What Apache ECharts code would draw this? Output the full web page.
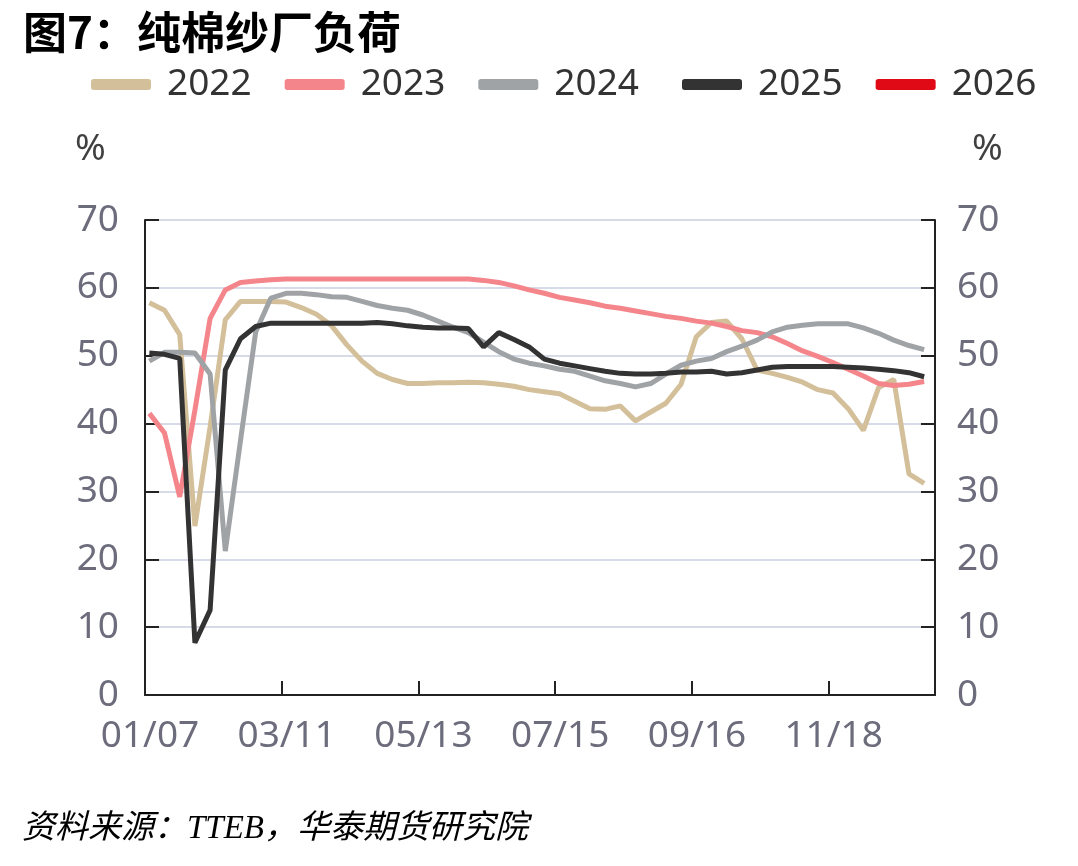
<!DOCTYPE html>
<html>
<head>
<meta charset="utf-8">
<title>纯棉纱厂负荷</title>
<script src="https://cdn.jsdelivr.net/npm/echarts@6/dist/echarts.min.js"></script>
<style>
  html, body { margin: 0; padding: 0; background: #fff; }
  #main { width: 1078px; height: 866px; }
</style>
</head>
<body>
<div id="main"></div>
<script>
  // weekly observation dates (all years drawn on one calendar)
  var obsDates = [
    '2025-01-09', '2025-01-16', '2025-01-23', '2025-01-30', '2025-02-06', '2025-02-13', '2025-02-20', '2025-02-27',
    '2025-03-06', '2025-03-13', '2025-03-20', '2025-03-27', '2025-04-03', '2025-04-10', '2025-04-17', '2025-04-24',
    '2025-05-01', '2025-05-08', '2025-05-15', '2025-05-22', '2025-05-29', '2025-06-05', '2025-06-12', '2025-06-19',
    '2025-06-26', '2025-07-03', '2025-07-10', '2025-07-17', '2025-07-24', '2025-07-31', '2025-08-07', '2025-08-14',
    '2025-08-21', '2025-08-28', '2025-09-04', '2025-09-11', '2025-09-18', '2025-09-25', '2025-10-02', '2025-10-09',
    '2025-10-16', '2025-10-23', '2025-10-30', '2025-11-06', '2025-11-13', '2025-11-20', '2025-11-27', '2025-12-04',
    '2025-12-11', '2025-12-18', '2025-12-25', '2026-01-01'
  ]
  var axisStart = '2025-01-07'
  var xTickLabels = ['01/07', '03/11', '05/13', '07/15', '09/16', '11/18']
  var yTickLabels = ['0', '10', '20', '30', '40', '50', '60', '70']

  var y2022 = [57.8, 56.7, 53.1, 24.9, 39.5, 55.3, 58.0, 58.0, 58.0, 57.9, 57.1, 56.1, 54.4, 51.6, 49.2, 47.4,
    46.5, 45.9, 45.9, 46.0, 46.0, 46.1, 46.0, 45.8, 45.5, 45.0, 44.7, 44.4, 43.3, 42.2, 42.1, 42.6,
    40.4, 41.7, 43.0, 45.8, 52.8, 54.9, 55.1, 52.5, 47.9, 47.4, 46.8, 46.1, 45.0, 44.5, 42.2, 39.0,
    45.3, 46.5, 32.6, 31.2]
  var y2023 = [41.5, 38.6, 29.2, 42.0, 55.5, 59.7, 60.8, 61.0, 61.2, 61.3, 61.3, 61.3, 61.3, 61.3, 61.3, 61.3,
    61.3, 61.3, 61.3, 61.3, 61.3, 61.3, 61.1, 60.8, 60.3, 59.7, 59.2, 58.6, 58.2, 57.8, 57.3, 57.0,
    56.6, 56.2, 55.8, 55.5, 55.1, 54.8, 54.3, 53.7, 53.4, 52.8, 51.8, 50.7, 49.9, 49.0, 48.0, 47.0,
    45.9, 45.6, 45.8, 46.2]
  var y2024 = [49.2, 50.5, 50.5, 50.4, 47.3, 21.2, 37.5, 53.5, 58.5, 59.2, 59.2, 59.0, 58.7, 58.6, 58.0, 57.4,
    57.0, 56.7, 56.0, 55.1, 54.2, 53.4, 52.0, 50.6, 49.5, 48.9, 48.5, 48.0, 47.7, 47.0, 46.3, 45.9,
    45.4, 45.9, 47.3, 48.6, 49.2, 49.6, 50.6, 51.4, 52.3, 53.5, 54.2, 54.5, 54.7, 54.7, 54.7, 54.1,
    53.3, 52.3, 51.5, 50.9]
  var y2025 = [50.4, 50.2, 49.6, 7.7, 12.5, 47.9, 52.5, 54.3, 54.8, 54.8, 54.8, 54.8, 54.8, 54.8, 54.8, 54.9,
    54.7, 54.4, 54.2, 54.1, 54.1, 54.0, 51.3, 53.4, 52.4, 51.3, 49.5, 48.9, 48.5, 48.1, 47.7, 47.4,
    47.3, 47.3, 47.4, 47.6, 47.6, 47.7, 47.3, 47.5, 47.9, 48.3, 48.4, 48.4, 48.4, 48.4, 48.3, 48.2,
    48.0, 47.8, 47.5, 46.9]
  var y2026 = []

  var seriesNames = ['2022', '2023', '2024', '2025', '2026']
  var seriesValues = [y2022, y2023, y2024, y2025, y2026]
  var colors = ['#d3bf99', '#f4868b', '#a0a3a6', '#333333', '#e00a16']

  var DAY = 86400000
  function dayOffset (d) {
    return (Date.parse(d) - Date.parse(axisStart)) / DAY
  }

  var labelColor = '#6c6c7c'
  var fontNum = '"Noto Sans", "Open Sans", sans-serif'

  var series = []
  for (var i = 0; i < seriesNames.length; i++) {
    var pts = []
    for (var j = 0; j < seriesValues[i].length; j++) {
      pts.push([dayOffset(obsDates[j]), seriesValues[i][j]])
    }
    series.push({
      name: seriesNames[i],
      type: 'line',
      data: pts,
      showSymbol: false,
      symbol: 'none',
      smooth: false,
      color: colors[i],
      lineStyle: { width: 5, color: colors[i] },
      z: 2 + i
    })
  }

  function yAxisCfg (pos, margin) {
    return {
      type: 'value',
      position: pos,
      min: 0,
      max: 70,
      interval: 10,
      axisLine: { show: true, lineStyle: { color: '#222', width: 2 } },
      axisTick: { show: true, inside: true, length: 14, lineStyle: { color: '#222', width: 2 } },
      axisLabel: {
        margin: margin,
        color: labelColor,
        fontSize: 37,
        fontFamily: fontNum,
        formatter: function (v) { return yTickLabels[v / 10] }
      },
      splitLine: pos === 'left' ? { show: true, lineStyle: { color: '#d6dbe7', width: 2 } } : { show: false }
    }
  }

  function legendCfg (names, left) {
    return {
      data: names,
      left: left,
      top: 61,
      icon: 'roundRect',
      itemWidth: 60,
      itemHeight: 11,
      itemGap: 33,
      textStyle: {
        color: '#333',
        fontSize: 37,
        fontFamily: fontNum,
        padding: [0, 0, 0, 11]
      }
    }
  }

  var chart = echarts.init(document.getElementById('main'), null, { renderer: 'canvas' })
  var option = {
    backgroundColor: '#fff',
    animation: false,
    title: {
      text: '图7：纯棉纱厂负荷',
      left: 18,
      top: 5,
      textStyle: {
        color: '#000',
        fontSize: 44,
        fontWeight: 'bold',
        fontFamily: '"Noto Sans CJK SC", sans-serif'
      }
    },
    legend: [
      legendCfg(['2022', '2023', '2024'], 86),
      legendCfg(['2025', '2026'], 677)
    ],
    grid: {
      left: 145,
      right: 143,
      top: 220,
      bottom: 171,
      containLabel: false
    },
    xAxis: {
      type: 'value',
      min: 0,
      max: 364,
      interval: 63,
      axisLine: { show: true, onZero: false, lineStyle: { color: '#222', width: 2 } },
      axisTick: { show: true, inside: true, length: 14, lineStyle: { color: '#222', width: 2 } },
      axisLabel: {
        margin: 23,
        padding: [0, 0, 0, 10],
        color: labelColor,
        fontSize: 37,
        fontFamily: fontNum,
        showMaxLabel: false,
        formatter: function (v) {
          return v % 63 === 0 ? (xTickLabels[v / 63] || '') : ''
        }
      },
      splitLine: { show: false }
    },
    yAxis: [yAxisCfg('left', 26), yAxisCfg('right', 22)],
    graphic: [
      {
        type: 'text',
        left: 75,
        top: 131,
        style: { text: '%', fill: '#404040', fontSize: 37, fontFamily: fontNum }
      },
      {
        type: 'text',
        left: 972,
        top: 131,
        style: { text: '%', fill: '#404040', fontSize: 37, fontFamily: fontNum }
      },
      {
        type: 'text',
        left: 22,
        top: 813,
        style: {
          text: '资料来源：TTEB，华泰期货研究院',
          fill: '#000',
          fontSize: 33,
          fontStyle: 'italic',
          fontFamily: '"Liberation Serif", "Noto Sans CJK SC", serif'
        }
      }
    ],
    series: series
  }
  chart.setOption(option)
</script>
</body>
</html>
